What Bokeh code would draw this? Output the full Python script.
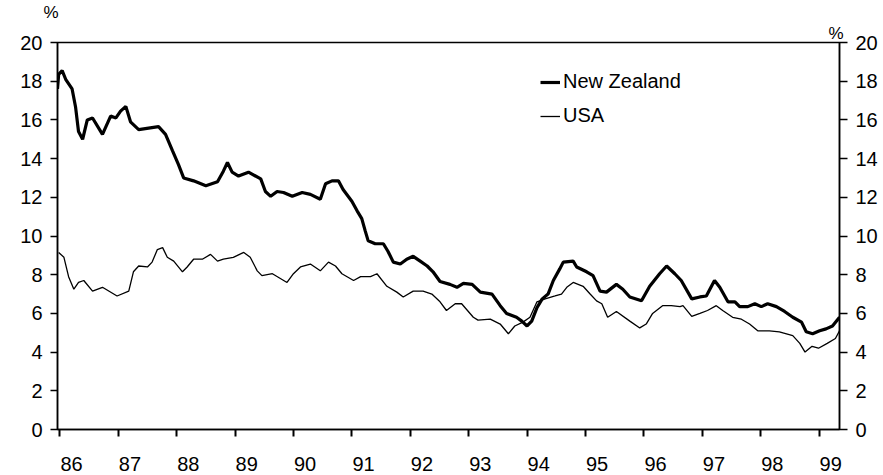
from bokeh.plotting import figure
from bokeh.models import Range1d, LinearAxis, FixedTicker, Legend, LegendItem, Title
from bokeh.embed import file_html
from bokeh.resources import INLINE

# ---- data (decimal years, % yield) ----
nz_year = [1985.96, 1985.98, 1986.04, 1986.10, 1986.21, 1986.27, 1986.32, 1986.39, 1986.47, 1986.56,
           1986.73, 1986.87, 1986.96, 1987.04, 1987.13, 1987.21, 1987.35, 1987.69, 1987.81, 1987.93,
           1988.03, 1988.12, 1988.29, 1988.50, 1988.70, 1988.80, 1988.87, 1988.95, 1989.06, 1989.23,
           1989.44, 1989.52, 1989.61, 1989.72, 1989.83, 1989.98, 1990.15, 1990.29, 1990.46, 1990.55,
           1990.66, 1990.77, 1990.85, 1991.00, 1991.09, 1991.17, 1991.23, 1991.28, 1991.40, 1991.54,
           1991.62, 1991.71, 1991.83, 1991.94, 1992.05, 1992.17, 1992.29, 1992.39, 1992.51, 1992.68,
           1992.80, 1992.91, 1993.06, 1993.20, 1993.40, 1993.54, 1993.65, 1993.82, 1993.91, 1994.00,
           1994.08, 1994.17, 1994.26, 1994.36, 1994.45, 1994.56, 1994.62, 1994.79, 1994.85, 1995.02,
           1995.13, 1995.25, 1995.36, 1995.53, 1995.64, 1995.76, 1995.96, 1996.10, 1996.27, 1996.39,
           1996.53, 1996.64, 1996.82, 1996.96, 1997.07, 1997.21, 1997.30, 1997.44, 1997.56, 1997.64,
           1997.78, 1997.90, 1998.01, 1998.12, 1998.27, 1998.41, 1998.55, 1998.70, 1998.78, 1998.89,
           1999.01, 1999.12, 1999.23, 1999.35]
nz_val = [17.6, 18.35, 18.55, 18.1, 17.6, 16.65, 15.4, 15.0, 16.0, 16.1,
          15.25, 16.2, 16.1, 16.45, 16.7, 15.9, 15.5, 15.65, 15.25, 14.4,
          13.7, 13.0, 12.85, 12.6, 12.8, 13.35, 13.8, 13.3, 13.1, 13.3,
          12.95, 12.3, 12.05, 12.3, 12.25, 12.05, 12.25, 12.15, 11.9, 12.7,
          12.85, 12.85, 12.4, 11.8, 11.3, 10.9, 10.25, 9.75, 9.6, 9.6,
          9.2, 8.65, 8.55, 8.8, 8.95, 8.7, 8.45, 8.15, 7.65, 7.5,
          7.35, 7.55, 7.5, 7.1, 7.0, 6.4, 6.0, 5.8, 5.6, 5.35,
          5.6, 6.3, 6.75, 7.0, 7.7, 8.3, 8.65, 8.7, 8.4, 8.15,
          7.95, 7.15, 7.1, 7.5, 7.25, 6.85, 6.65, 7.4, 8.05, 8.45,
          8.05, 7.7, 6.75, 6.85, 6.9, 7.7, 7.35, 6.6, 6.6, 6.35,
          6.35, 6.5, 6.35, 6.5, 6.35, 6.1, 5.8, 5.55, 5.05, 4.95,
          5.1, 5.2, 5.35, 5.8]

us_year = [1985.98, 1986.07, 1986.15, 1986.24, 1986.32, 1986.41, 1986.56, 1986.73, 1986.98, 1987.18,
           1987.26, 1987.35, 1987.50, 1987.58, 1987.67, 1987.76, 1987.84, 1987.95, 1988.10, 1988.18,
           1988.29, 1988.44, 1988.58, 1988.70, 1988.80, 1988.97, 1989.15, 1989.26, 1989.38, 1989.46,
           1989.64, 1989.89, 1990.00, 1990.12, 1990.29, 1990.46, 1990.60, 1990.72, 1990.83, 1991.03,
           1991.15, 1991.32, 1991.43, 1991.60, 1991.77, 1991.88, 1992.05, 1992.22, 1992.37, 1992.51,
           1992.62, 1992.77, 1992.88, 1993.08, 1993.16, 1993.37, 1993.54, 1993.68, 1993.79, 1993.93,
           1994.05, 1994.17, 1994.31, 1994.48, 1994.59, 1994.68, 1994.79, 1994.96, 1995.08, 1995.19,
           1995.28, 1995.38, 1995.53, 1995.76, 1995.93, 1996.04, 1996.15, 1996.32, 1996.47, 1996.62,
           1996.67, 1996.82, 1996.96, 1997.09, 1997.24, 1997.35, 1997.52, 1997.67, 1997.81, 1997.95,
           1998.15, 1998.32, 1998.55, 1998.67, 1998.76, 1998.88, 1998.99, 1999.14, 1999.28, 1999.35]
us_val = [9.15, 8.9, 7.9, 7.25, 7.6, 7.7, 7.15, 7.35, 6.9, 7.15,
          8.15, 8.45, 8.4, 8.65, 9.3, 9.4, 8.9, 8.7, 8.15, 8.4,
          8.8, 8.8, 9.05, 8.7, 8.8, 8.9, 9.15, 8.9, 8.2, 7.95,
          8.05, 7.6, 8.05, 8.4, 8.55, 8.2, 8.65, 8.45, 8.05, 7.7,
          7.9, 7.9, 8.05, 7.4, 7.1, 6.85, 7.15, 7.15, 7.0, 6.6,
          6.15, 6.5, 6.5, 5.8, 5.65, 5.7, 5.45, 4.95, 5.35, 5.55,
          5.8, 6.6, 6.75, 6.9, 7.0, 7.35, 7.6, 7.4, 7.0, 6.65,
          6.5, 5.8, 6.1, 5.6, 5.25, 5.45, 6.0, 6.4, 6.4, 6.35,
          6.4, 5.85, 6.0, 6.15, 6.4, 6.15, 5.8, 5.7, 5.45, 5.1,
          5.1, 5.05, 4.85, 4.45, 4.0, 4.3, 4.2, 4.45, 4.7, 5.1]

years = list(range(1986, 2000))
x_labels = ["86", "87", "88", "89", "90", "91", "92", "93", "94", "95", "96", "97", "98", "99"]
y_ticks = [0, 2, 4, 6, 8, 10, 12, 14, 16, 18, 20]
series_names = ["New Zealand", "USA"]
unit_text = "%"

FONT = "Liberation Sans"
FS = "20px"

p = figure(width=880, height=473,
           x_range=Range1d(1985.96, 1999.35), y_range=Range1d(0, 20),
           output_backend="svg", toolbar_location=None,
           min_border_left=57, min_border_right=41, min_border_top=40, min_border_bottom=44)
p.grid.visible = False
p.outline_line_color = "black"
p.outline_line_width = 1.5
p.background_fill_color = "white"
p.border_fill_color = "white"

nz_r = p.line(nz_year, nz_val, line_color="black", line_width=3.2)
us_r = p.line(us_year, us_val, line_color="black", line_width=1.3)

# x axis: labels slightly after year start, tick marks at year start (minor ticks)
label_pos = [y + 0.2 for y in years]
xax = p.xaxis[0]
xax.ticker = FixedTicker(ticks=label_pos, minor_ticks=[float(y) for y in years])
xax.major_label_overrides = {pos: lab for pos, lab in zip(label_pos, x_labels)}
xax.major_tick_out = 0
xax.major_tick_in = 0
xax.minor_tick_out = 7
xax.minor_tick_in = 0
xax.minor_tick_line_color = "black"
xax.minor_tick_line_width = 2
xax.axis_line_width = 1.5
xax.major_label_standoff = 20
xax.major_label_text_font = FONT
xax.major_label_text_font_size = FS
xax.major_label_text_color = "black"

def style_y(ax, out):
    ax.ticker = FixedTicker(ticks=y_ticks)
    ax.major_tick_out = out
    ax.major_tick_in = 0
    ax.minor_tick_out = 0
    ax.minor_tick_in = 0
    ax.major_tick_line_width = 1.5
    ax.axis_line_width = 1.5
    ax.major_label_standoff = 8
    ax.major_label_text_font = FONT
    ax.major_label_text_font_size = FS
    ax.major_label_text_color = "black"

style_y(p.yaxis[0], 7)
rax = LinearAxis()
style_y(rax, 8)
p.add_layout(rax, "right")

legend = Legend(items=[LegendItem(label=series_names[0], renderers=[nz_r]),
                       LegendItem(label=series_names[1], renderers=[us_r])],
                location=(483, 302), glyph_width=20, glyph_height=20, label_height=20,
                label_standoff=3, spacing=11, padding=0, margin=0,
                background_fill_alpha=0, border_line_color=None,
                label_text_font=FONT, label_text_font_size=FS, label_text_color="black")
p.add_layout(legend)

# unit markers above the two value axes
p.add_layout(Title(text=unit_text, align="right", offset=-4, standoff=0,
                   text_font=FONT, text_font_size="17px", text_font_style="normal",
                   text_color="black"), "above")
p.add_layout(Title(text=unit_text, align="left", offset=-14, standoff=0,
                   text_font=FONT, text_font_size="17px", text_font_style="normal",
                   text_color="black"), "above")

open("out.html", "w").write(file_html(p, INLINE))
